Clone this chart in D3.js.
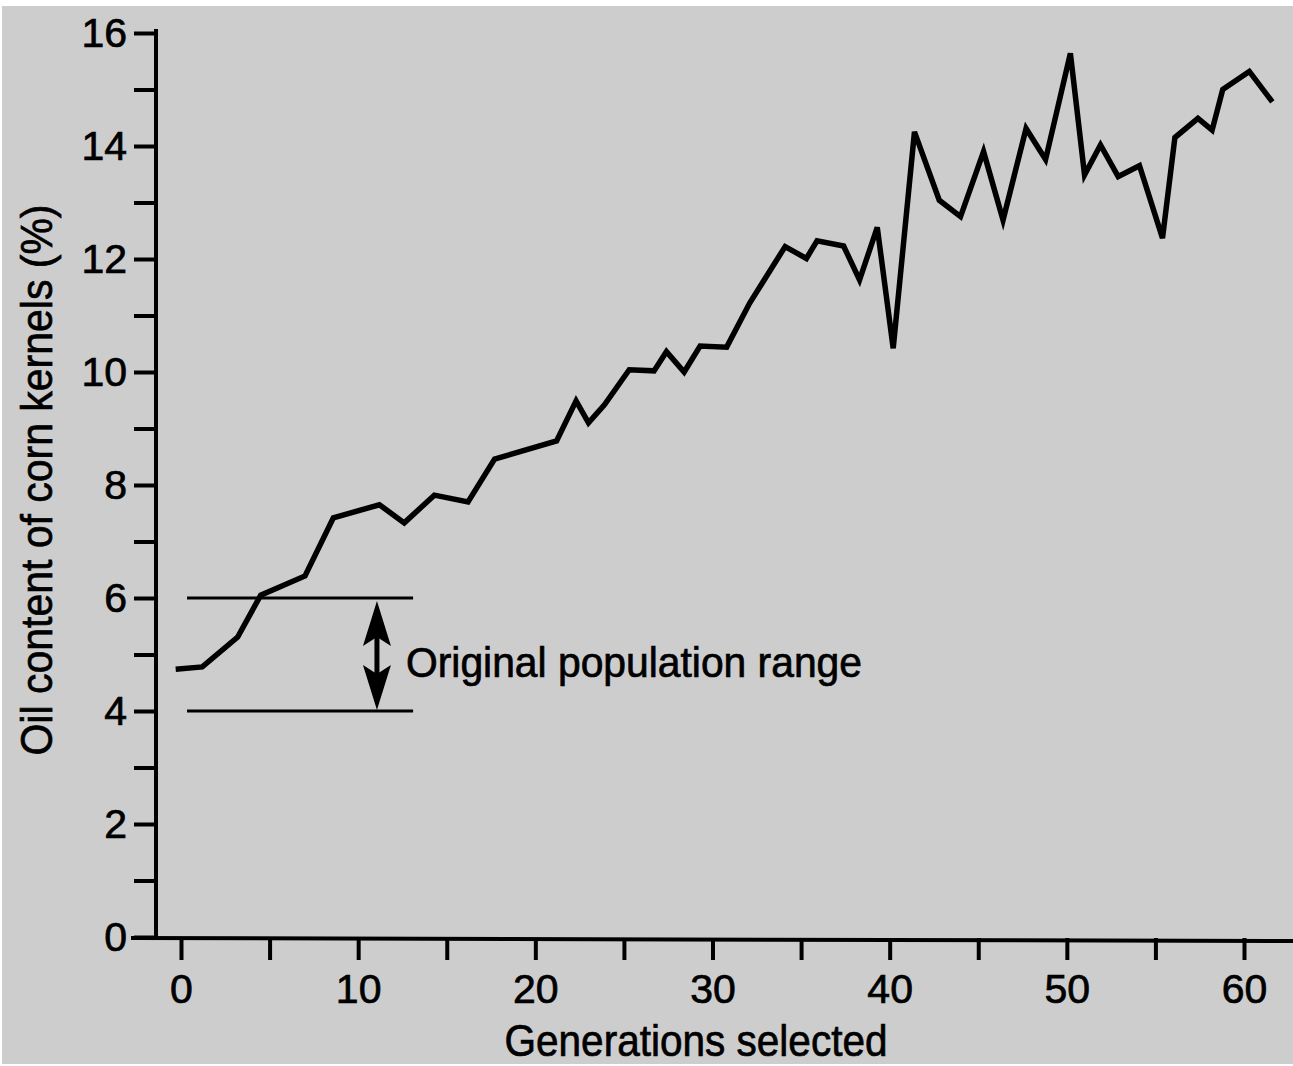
<!DOCTYPE html>
<html>
<head>
<meta charset="utf-8">
<script src="https://cdn.jsdelivr.net/npm/d3@7"></script>
<style>
  body { margin: 0; background: #fff; }
  text { font-family: "Liberation Sans", Arial, sans-serif; fill: #000; stroke: #000; stroke-width: 0.7px; }
</style>
</head>
<body>
<div id="chart"></div>
<script>
// generations selected (as drawn) and oil content (%)
var generations = [-0.3, 1.2, 3.2, 4.5, 7.0, 8.6, 11.2, 12.6, 14.3, 16.2, 17.7, 21.2, 22.3, 23.0, 23.9,
  25.3, 26.7, 27.4, 28.4, 29.3, 30.8, 32.1, 34.1, 35.3, 35.9, 37.4, 38.3, 39.3, 40.2, 41.4,
  42.8, 44.0, 45.3, 46.4, 47.7, 48.8, 50.2, 51.0, 51.9, 52.9, 54.1, 55.4, 56.1, 57.4, 58.2,
  58.8, 60.3, 61.6];
var oilContent = [4.74, 4.78, 5.31, 6.05, 6.39, 7.42, 7.65, 7.33, 7.82, 7.70, 8.46, 8.78, 9.49, 9.10, 9.42,
  10.04, 10.02, 10.36, 10.0, 10.46, 10.44, 11.22, 12.22, 12.01, 12.32, 12.23, 11.63, 12.56, 10.42, 14.25,
  13.04, 12.75, 13.9, 12.69, 14.31, 13.76, 15.64, 13.49, 14.02, 13.46, 13.65, 12.37, 14.15, 14.49, 14.28,
  15.0, 15.32, 14.78];

var xTicks = [0, 5, 10, 15, 20, 25, 30, 35, 40, 45, 50, 55, 60];
var yTicks = [0, 1, 2, 3, 4, 5, 6, 7, 8, 9, 10, 11, 12, 13, 14, 15, 16];

// original population range (%) and where its bracket sits (generations)
var rangeBounds = [4, 6];
var rangeSpan = [0.34, 13.1];
var rangeArrowAt = 11.06;
var rangeLabel = "Original population range";

var width = 1293,
    height = 1066;

var x = d3.scaleLinear().domain([0, 60]).range([181, 1244]);
var y = d3.scaleLinear().domain([0, 16]).range([937, 33]);
var axisX = 156, axisY = 938;

var svg = d3.select("#chart").append("svg")
    .attr("width", width)
    .attr("height", height);

svg.append("rect")
    .attr("x", 2).attr("y", 6)
    .attr("width", width - 2).attr("height", 1058)
    .attr("fill", "#cdcdcd");

// y axis
var yAxis = svg.append("g")
    .attr("transform", "translate(" + axisX + ",0)")
    .call(d3.axisLeft(y)
        .tickValues(yTicks)
        .tickSize(22)
        .tickPadding(7)
        .tickFormat(function (d) { return d % 2 === 0 ? d : ""; }));
yAxis.select(".domain").remove();
yAxis.selectAll(".tick line").attr("stroke", "#000").attr("stroke-width", 4);
yAxis.selectAll(".tick text").style("font-size", "41px").attr("font-family", null);

// x axis
var xAxis = svg.append("g")
    .attr("transform", "translate(0," + axisY + ")")
    .call(d3.axisBottom(x)
        .tickValues(xTicks)
        .tickSize(22)
        .tickPadding(14)
        .tickFormat(function (d) { return d % 10 === 0 ? d : ""; }));
xAxis.select(".domain").remove();
xAxis.selectAll(".tick line").attr("stroke", "#000").attr("stroke-width", 4);
xAxis.selectAll(".tick text").style("font-size", "41px").attr("font-family", null);

svg.append("line")
    .attr("x1", axisX).attr("x2", axisX)
    .attr("y1", 29).attr("y2", axisY)
    .attr("stroke", "#000").attr("stroke-width", 4);
svg.append("line")
    .attr("x1", 131).attr("x2", width)
    .attr("y1", axisY).attr("y2", axisY + 3)
    .attr("stroke", "#000").attr("stroke-width", 4);

// axis titles
svg.append("text")
    .attr("x", 696).attr("y", 1056)
    .attr("text-anchor", "middle")
    .attr("textLength", 383)
    .attr("lengthAdjust", "spacingAndGlyphs")
    .style("font-size", "44px")
    .text("Generations selected");

svg.append("text")
    .attr("transform", "translate(52,480) rotate(-90)")
    .attr("text-anchor", "middle")
    .attr("textLength", 551)
    .attr("lengthAdjust", "spacingAndGlyphs")
    .style("font-size", "44px")
    .text("Oil content of corn kernels (%)");

// original population range
svg.selectAll(".range")
    .data(rangeBounds).enter().append("line")
    .attr("class", "range")
    .attr("x1", x(rangeSpan[0])).attr("x2", x(rangeSpan[1]))
    .attr("y1", function (d) { return y(d); })
    .attr("y2", function (d) { return y(d); })
    .attr("stroke", "#000").attr("stroke-width", 3);

var ax = x(rangeArrowAt),
    arrowTop = y(rangeBounds[1]) + 3,
    arrowBot = y(rangeBounds[0]) - 1;
svg.append("line")
    .attr("x1", ax).attr("x2", ax)
    .attr("y1", arrowTop + 20).attr("y2", arrowBot - 20)
    .attr("stroke", "#000").attr("stroke-width", 5);
function head(tip, dir) {
    return "M" + ax + "," + tip +
        "L" + (ax + 14) + "," + (tip + dir * 45) +
        "L" + ax + "," + (tip + dir * 36) +
        "L" + (ax - 14) + "," + (tip + dir * 45) + "Z";
}
svg.append("path").attr("d", head(arrowTop, 1)).attr("fill", "#000");
svg.append("path").attr("d", head(arrowBot, -1)).attr("fill", "#000");

svg.append("text")
    .attr("x", x(12.7)).attr("y", y(4.5) - 6)
    .attr("textLength", 456)
    .attr("lengthAdjust", "spacingAndGlyphs")
    .style("font-size", "42px")
    .text(rangeLabel);

// the selection response line
var line = d3.line()
    .x(function (d) { return x(d[0]); })
    .y(function (d) { return y(d[1]); });

svg.append("path")
    .datum(d3.zip(generations, oilContent))
    .attr("d", line)
    .attr("fill", "none")
    .attr("stroke", "#000")
    .attr("stroke-width", 5.5)
    .attr("stroke-linejoin", "miter")
    .attr("stroke-miterlimit", 4);
</script>
</body>
</html>
